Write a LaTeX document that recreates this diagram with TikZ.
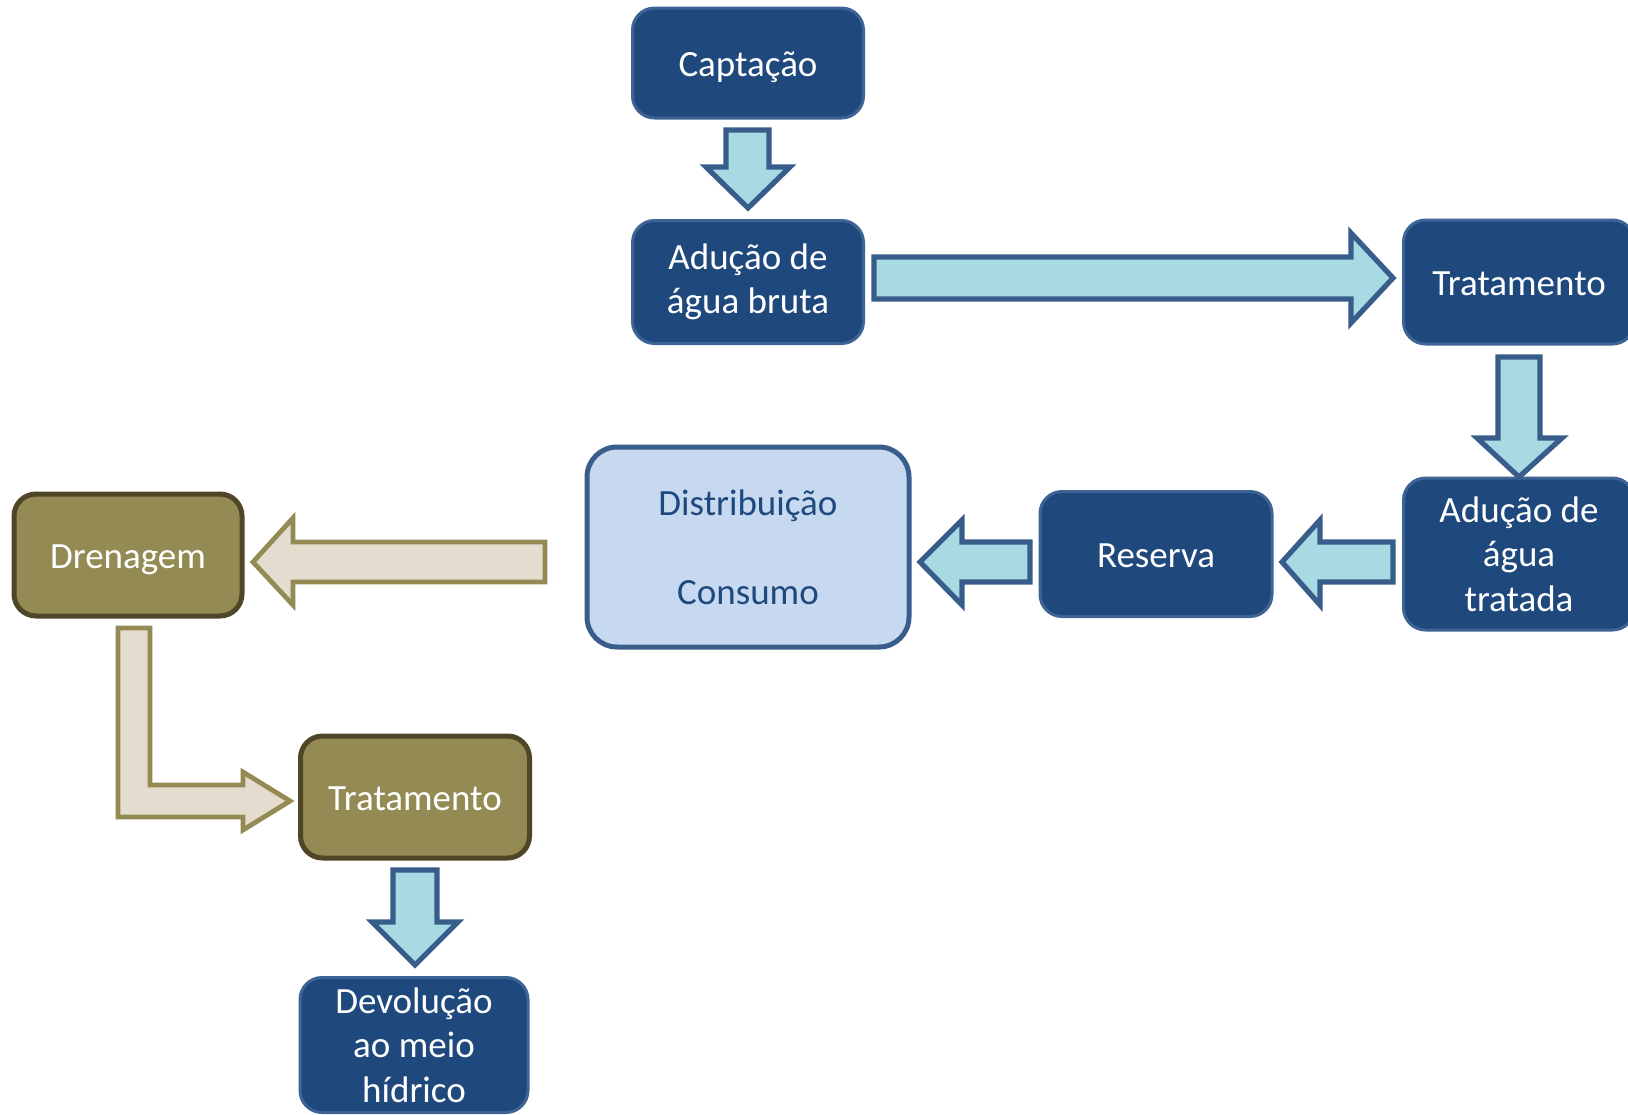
\documentclass[tikz,border=0pt]{standalone}
\usepackage{fontspec}
\setmainfont{Carlito}
\usepackage{tikz}

\definecolor{boxblue}{RGB}{31,73,125}
\definecolor{boxedge}{RGB}{62,100,150}
\definecolor{waterfill}{RGB}{168,218,228}
\definecolor{wateredge}{RGB}{56,93,138}
\definecolor{paleblue}{RGB}{198,217,241}
\definecolor{olive}{RGB}{148,138,84}
\definecolor{oliveedge}{RGB}{79,70,40}
\definecolor{sand}{RGB}{228,220,206}

\tikzset{
  stage/.style={rectangle, rounded corners=11pt, fill=boxblue, draw=boxedge,
    line width=1.5pt, text=white, align=center, inner sep=0pt,
    font=\fontsize{18.5}{22.3}\selectfont},
  oneline/.style={text height=13pt, text depth=0pt},
  usebox/.style={stage, fill=paleblue, draw=wateredge, line width=2.5pt,
    rounded corners=15pt, text=boxblue},
  drainbox/.style={stage, fill=olive, draw=oliveedge, line width=2.5pt},
  water/.style={fill=waterfill, draw=wateredge, line width=2.6pt},
  sandarrow/.style={fill=sand, draw=olive, line width=2.4pt}
}

\begin{document}
\begin{tikzpicture}[x=0.5pt, y=-0.5pt]
    \useasboundingbox (0,0) rectangle (1628,1114);
    % abastecimento
    \node[stage, oneline, minimum width=115.5pt, minimum height=55pt] (capt) at (748,63) {Captação};
    \node[stage, minimum width=115.5pt, minimum height=61.5pt] (bruta) at (748,282) {Adução de\\água bruta};
    \node[stage, oneline, minimum width=115.5pt, minimum height=62pt] (trat) at (1519,282) {Tratamento};
    \node[stage, minimum width=115.5pt, minimum height=76pt] (tratada) at (1519,554) {Adução de\\água\\tratada};
    \node[stage, oneline, minimum width=116pt, minimum height=62.5pt] (res) at (1156,554) {Reserva};
    \node[usebox, minimum width=161pt, minimum height=100pt] (dist) at (748,547) {Distribuição\\[22pt]Consumo};
    % esgoto
    \node[drainbox, oneline, minimum width=114pt, minimum height=61pt] (dren) at (128,555) {Drenagem};
    \node[drainbox, oneline, minimum width=114.5pt, minimum height=61pt] (tratb) at (415,797) {Tratamento};
    \node[stage, minimum width=114pt, minimum height=67.5pt] (devol) at (414,1045) {Devolução\\ao meio\\hídrico};
    % setas
    \draw[water] (726,130) -- (769,130) -- (769,167) -- (790,167) -- (748,208) -- (706,167) -- (726,167) -- cycle;
    \draw[water] (874,257) -- (1351,257) -- (1351,233) -- (1393,278) -- (1351,323) -- (1351,299) -- (874,299) -- cycle;
    \draw[water] (1498,357) -- (1540,357) -- (1540,438) -- (1562,438) -- (1519,477) -- (1477,438) -- (1498,438) -- cycle;
    \draw[water] (1393,542) -- (1320,542) -- (1320,520) -- (1282,562) -- (1320,605) -- (1320,582) -- (1393,582) -- cycle;
    \draw[water] (1030,542) -- (962,542) -- (962,520) -- (920,562) -- (962,605) -- (962,582) -- (1030,582) -- cycle;
    \draw[sandarrow] (545,542) -- (293,542) -- (293,518) -- (253,562) -- (293,605) -- (293,582) -- (545,582) -- cycle;
    \draw[sandarrow] (118,628) -- (150,628) -- (150,785) -- (243,785) -- (243,772) -- (290,801) -- (243,830) -- (243,817) -- (118,817) -- cycle;
    \draw[water] (393,870) -- (437,870) -- (437,922) -- (458,922) -- (415,965) -- (372,922) -- (393,922) -- cycle;
\end{tikzpicture}
\end{document}
